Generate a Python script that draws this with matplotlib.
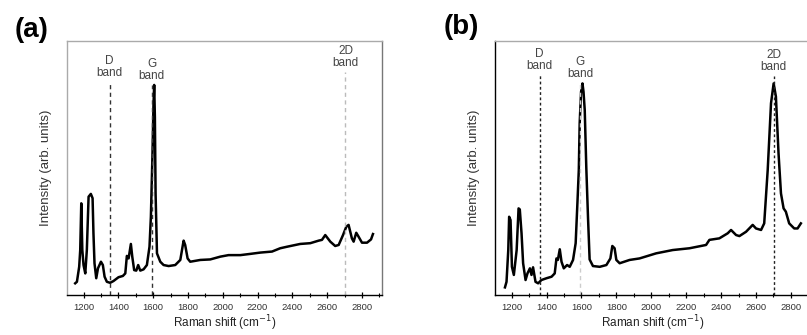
import numpy as np
import matplotlib
matplotlib.use("Agg")
import matplotlib.pyplot as plt
from matplotlib.ticker import MultipleLocator

plt.rcParams['font.family'] = ['Liberation Sans', 'DejaVu Sans']

# Panel (a) spectrum (arb. units, 0 = bottom of axes, 100 = top)
shift_a = [1152, 1162, 1175, 1181, 1187, 1193, 1200, 1210, 1219, 1229, 1242, 1252,
           1257, 1263, 1273, 1283, 1300, 1311, 1321, 1334, 1353, 1372, 1401, 1426,
           1440, 1449, 1459, 1472, 1480, 1491, 1503, 1514, 1526, 1545, 1564, 1579,
           1587, 1596, 1602, 1606, 1610, 1614, 1622, 1641, 1660, 1689, 1727, 1756,
           1775, 1784, 1798, 1813, 1871, 1928, 1986, 2033, 2101, 2160, 2216, 2283,
           2330, 2369, 2445, 2503, 2551, 2570, 2589, 2618, 2646, 2666, 2691, 2710,
           2723, 2742, 2752, 2767, 2780, 2800, 2829, 2852, 2863]
inten_a = [4.6, 5.2, 11.1, 17.7, 36.1, 17.7, 11.8, 8.5, 17.7, 38.7, 39.8, 38.1,
           24.3, 12.5, 6.6, 10.5, 13.1, 11.8, 7.2, 5.2, 4.8, 5.5, 7.0, 7.5,
           8.5, 15.4, 14.4, 20.1, 15.1, 9.8, 9.6, 11.8, 9.6, 10.1, 11.8, 19.0,
           30.8, 55.0, 75.0, 82.7, 70.0, 40.0, 16.4, 13.1, 11.8, 11.4, 11.8, 13.8,
           21.4, 19.7, 14.4, 13.1, 13.8, 14.0, 15.1, 15.7, 15.7, 16.2, 16.7, 17.1,
           18.4, 19.0, 20.1, 20.4, 21.4, 21.7, 23.6, 21.0, 19.3, 19.7, 23.6, 26.9,
           27.6, 22.3, 21.0, 24.5, 23.0, 20.6, 20.6, 21.9, 24.0]

# Panel (b) spectrum
shift_b = [1162, 1171, 1181, 1186, 1194, 1202, 1213, 1229, 1240, 1247, 1257, 1266,
           1280, 1291, 1305, 1314, 1323, 1337, 1352, 1371, 1400, 1429, 1447, 1457,
           1465, 1476, 1486, 1499, 1518, 1533, 1552, 1567, 1577, 1585, 1590, 1598,
           1606, 1612, 1619, 1628, 1638, 1647, 1666, 1705, 1743, 1766, 1777, 1790,
           1800, 1819, 1876, 1933, 2028, 2123, 2219, 2314, 2333, 2390, 2438, 2457,
           2486, 2505, 2543, 2581, 2600, 2629, 2647, 2667, 2686, 2701, 2714, 2729,
           2743, 2758, 2771, 2790, 2819, 2838, 2857]
inten_b = [3.0, 5.2, 17.7, 30.8, 29.5, 11.1, 7.9, 17.7, 34.1, 33.7, 24.3, 12.5,
           5.9, 8.5, 10.5, 7.9, 10.9, 5.2, 4.6, 5.9, 6.6, 7.2, 8.5, 14.4,
           13.8, 18.0, 13.1, 10.5, 11.8, 11.1, 13.8, 20.4, 36.1, 49.2, 67.6, 80.0,
           83.3, 80.0, 72.8, 50.0, 30.0, 14.0, 11.4, 11.1, 11.8, 14.4, 19.3, 18.4,
           13.8, 12.5, 13.8, 14.4, 16.4, 17.7, 18.4, 19.7, 21.7, 22.3, 24.3, 25.6,
           23.6, 23.2, 24.9, 27.6, 26.2, 25.6, 28.2, 49.2, 75.5, 83.3, 78.1, 55.8,
           40.0, 34.1, 32.8, 28.2, 26.2, 26.2, 28.2]

band_names = ["D\nband", "G\nband", "2D\nband"]
bands_a = [1350, 1592, 2705]
bands_b = [1360, 1594, 2702]
tick_vals = [1200, 1400, 1600, 1800, 2000, 2200, 2400, 2600, 2800]

W, H = 807, 335
fig = plt.figure(figsize=(W / 100, H / 100), dpi=100)


def make_panel(rect, x, y, bands, band_styles, letter, letter_xy, left_col, right_col):
    ax = fig.add_axes(rect)
    ax.plot(x, y, color='black', lw=1.8, solid_joinstyle='round')
    for pos, name, (col, dash, top) in zip(bands, band_names, band_styles):
        ax.axvline(pos, ymin=0, ymax=top, color=col, lw=1.0, dashes=dash)
        ax.text(pos, top + 0.012, name, ha='center', va='bottom', fontsize=8.5,
                color='#444444', linespacing=1.0, transform=ax.get_xaxis_transform())
    ax.set_xlim(1105, 2915)
    ax.set_ylim(0, 100)
    ax.set_yticks([])
    ax.set_xticks(tick_vals)
    ax.xaxis.set_minor_locator(MultipleLocator(100))
    ax.tick_params(axis='x', which='major', direction='inout', length=5, width=0.9,
                   labelsize=6.8, labelcolor='#333333', pad=3)
    ax.tick_params(axis='x', which='minor', direction='inout', length=3, width=0.8)
    ax.spines['top'].set_color('#aaaaaa')
    ax.spines['left'].set_color(left_col)
    ax.spines['right'].set_color(right_col)
    ax.spines['bottom'].set_color('black')
    for s in ax.spines.values():
        s.set_linewidth(1.0)
    ax.set_xlabel("Raman shift (cm$^{-1}$)", fontsize=8.5, color='#222222', labelpad=1)
    ax.set_ylabel("Intensity (arb. units)", fontsize=9.5, color='#333333', labelpad=11)
    fig.text(letter_xy[0] / W, 1 - letter_xy[1] / H, letter, fontsize=20,
             fontweight='bold', ha='center', va='center')
    return ax


ax_top = 41
ax_bot = 295
rect_a = [67 / W, 1 - ax_bot / H, (382 - 67) / W, (ax_bot - ax_top) / H]
rect_b = [495 / W, 1 - ax_bot / H, (811 - 495) / W, (ax_bot - ax_top) / H]

top_a = [(295 - 82) / 254, (295 - 85) / 254, (295 - 72) / 254]
top_b = [(295 - 75) / 254, (295 - 83) / 254, (295 - 76) / 254]

make_panel(rect_a, shift_a, inten_a, bands_a,
           [('#333333', (3, 2.5), top_a[0]), ('#333333', (3, 2.5), top_a[1]),
            ('#bbbbbb', (3, 2.5), top_a[2])],
           "(a)", (32, 30), '#aaaaaa', '#777777')
make_panel(rect_b, shift_b, inten_b, bands_b,
           [('#222222', (2, 1.8), top_b[0]), ('#cccccc', (3, 2.5), top_b[1]),
            ('#222222', (2, 1.8), top_b[2])],
           "(b)", (461, 27), 'black', '#777777')

fig.savefig("out.png", dpi=100)
